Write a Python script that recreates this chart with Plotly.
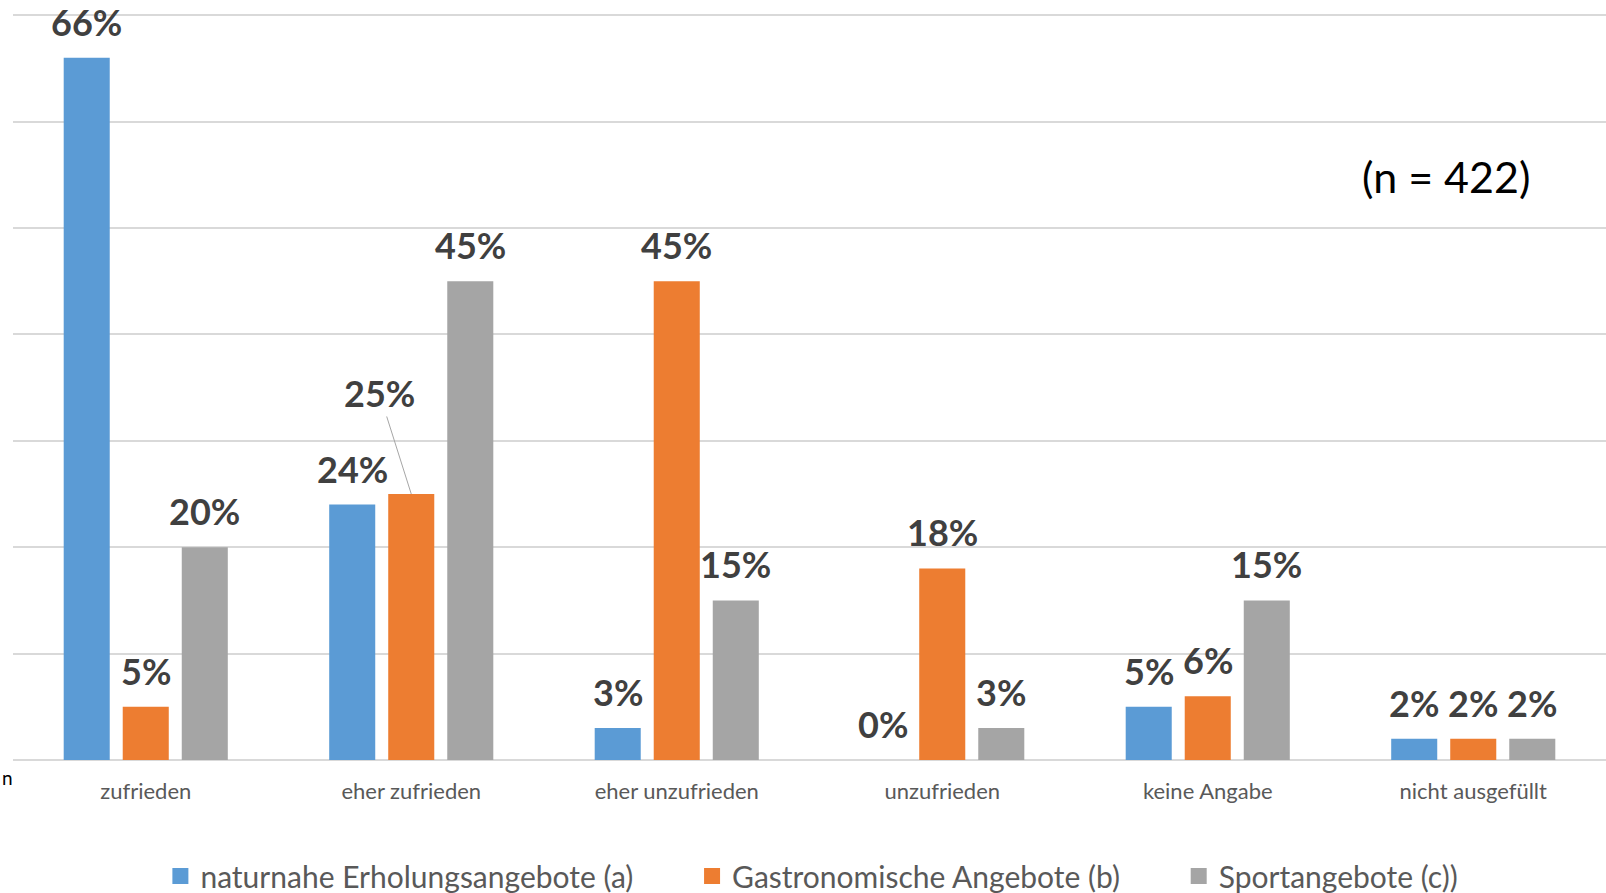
import plotly.graph_objects as go

categories = ["zufrieden", "eher zufrieden", "eher unzufrieden", "unzufrieden", "keine Angabe", "nicht ausgefüllt"]
series_names = ["naturnahe Erholungsangebote (a)", "Gastronomische Angebote (b)", "Sportangebote (c))"]
vals_a = [66, 24, 3, 0, 5, 2]
vals_b = [5, 25, 45, 18, 6, 2]
vals_c = [20, 45, 15, 3, 15, 2]
colors = ["#5B9BD5", "#ED7D31", "#A5A5A5"]
note_text = "(n = 422)"

series = [vals_a, vals_b, vals_c]
FONT = "Lato, Open Sans, sans-serif"
LABEL_FONT = dict(family=FONT, size=36, color="#404040", weight="bold")

W, H = 1606, 893
L, R, T, B = 13, 0, 13, 133
pw, ph = W - L - R, H - T - B

fig = go.Figure()
for name, vals, col in zip(series_names, series, colors):
    fig.add_trace(go.Bar(
        x=categories, y=vals, name=name, showlegend=False,
        marker=dict(color=col, line=dict(width=0)),
        hoverinfo="skip",
    ))
# legend entries with larger square symbols
pad = ["\u00a0" * 7, "\u00a0" * 7, ""]
for name, col, p in zip(series_names, colors, pad):
    fig.add_trace(go.Scatter(
        x=[None], y=[None], mode="markers", name=name + p,
        marker=dict(symbol="square", size=18, color=col), showlegend=True,
    ))

annotations = []
slot = 59
for si, vals in enumerate(series):
    for ci, v in enumerate(vals):
        xs = (si - 1) * slot
        if si == 1 and ci == 1:
            annotations.append(dict(
                x=categories[ci], y=v, xref="x", yref="y",
                text=f"{v}%", font=LABEL_FONT, showarrow=True,
                arrowhead=0, arrowwidth=1, arrowcolor="#A6A6A6",
                ax=-32, ay=-101, standoff=0, xshift=xs,
            ))
        else:
            annotations.append(dict(
                x=categories[ci], y=v, xref="x", yref="y",
                text=f"{v}%", font=LABEL_FONT, showarrow=False,
                xanchor="center", yanchor="middle", xshift=xs, yshift=36,
            ))

annotations.append(dict(
    x=(1446 - L) / pw, y=(H - B - 177) / ph, xref="paper", yref="paper",
    text=note_text, showarrow=False,
    font=dict(family=FONT, size=43, color="#000000"),
    xanchor="center", yanchor="middle",
))
annotations.append(dict(
    x=-L / pw, y=(H - B - 777) / ph, xref="paper", yref="paper", text="n", showarrow=False,
    font=dict(family=FONT, size=19, color="#000000"),
    xanchor="left", yanchor="middle",
))

fig.update_layout(
    width=W, height=H,
    margin=dict(l=L, r=R, t=T, b=B, pad=0),
    paper_bgcolor="white", plot_bgcolor="white",
    barmode="group", bargap=0.333, bargroupgap=0.22,
    showlegend=True,
    legend=dict(
        orientation="h", x=0.5015, xref="paper",
        y=1 - 876 / H, yref="container", xanchor="center", yanchor="middle",
        font=dict(family=FONT, size=30, color="#595959"),
        itemclick=False, itemdoubleclick=False,
    ),
    annotations=annotations,
    xaxis=dict(
        showgrid=False, showline=False, ticks="",
        tickfont=dict(family=FONT, size=22, color="#595959"),
        ticklabelstandoff=16,
    ),
    yaxis=dict(
        range=[0, 70.2], dtick=10, showticklabels=False, ticks="",
        showgrid=True, gridcolor="#D9D9D9", gridwidth=1.5,
        zeroline=True, zerolinecolor="#D9D9D9", zerolinewidth=1.5,
        showline=False,
    ),
)

fig.write_html("out.html", config={"displayModeBar": False},
               post_script="document.body.style.margin='0';")
